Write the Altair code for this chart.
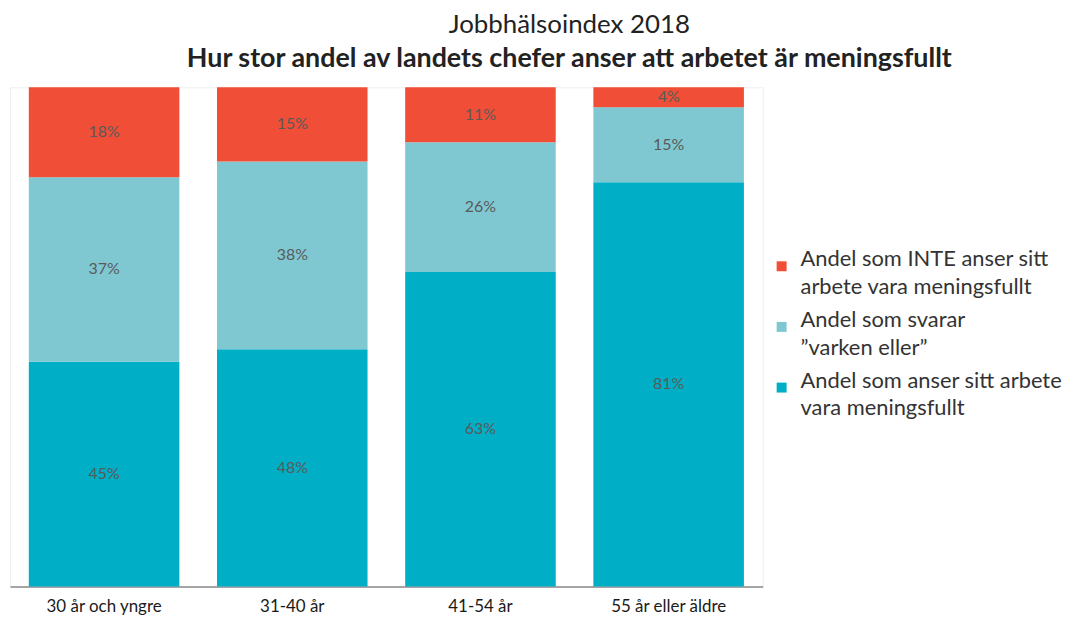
import altair as alt
import pandas as pd

ages = ["30 år och yngre", "31-40 år", "41-54 år", "55 år eller äldre"]
cat_not = "Andel som INTE anser sitt|arbete vara meningsfullt"
cat_neither = "Andel som svarar|”varken eller”"
cat_yes = "Andel som anser sitt arbete|vara meningsfullt"
categories = [cat_not, cat_neither, cat_yes]
colors = ["#F04E36", "#7FC8D2", "#00AEC6"]

v_yes = [45, 48, 63, 81]
v_neither = [37, 38, 26, 15]
v_not = [18, 15, 11, 4]

rows = []
for i, a in enumerate(ages):
    for cat, vals, o in [(cat_yes, v_yes, 0), (cat_neither, v_neither, 1), (cat_not, v_not, 2)]:
        rows.append({"age": a, "cat": cat, "value": vals[i], "ord": o, "label": f"{vals[i]}%"})
df = pd.DataFrame(rows)

base = alt.Chart(df).transform_stack(
    stack="value", groupby=["age"], as_=["y0", "y1"], offset="normalize",
    sort=[alt.SortField("ord", order="ascending")]
).transform_calculate(mid="(datum.y0 + datum.y1) / 2")

x = alt.X("age:N", sort=ages, title=None,
          scale=alt.Scale(paddingInner=0.2, paddingOuter=0.1),
          axis=alt.Axis(labelAngle=0, ticks=False, labelPadding=12, labelFontSize=17,
                        labelFont="Lato", labelColor="#1a1a1a", domainColor="#8a8a8a",
                        domainWidth=1.5, labelLineHeight=20))

bars = base.mark_bar().encode(
    x=x,
    y=alt.Y("y0:Q", scale=alt.Scale(domain=[0, 1]), axis=None),
    y2="y1:Q",
    color=alt.Color("cat:N", scale=alt.Scale(domain=categories, range=colors),
                    legend=alt.Legend(title=None, orient="none", legendX=765, legendY=169,
                                      symbolType="square", symbolSize=100, symbolStrokeWidth=0,
                                      labelFontSize=22, labelFont="Lato", labelColor="#333333",
                                      labelExpr="split(datum.label, '|')", labelLimit=400,
                                      labelOffset=8, rowPadding=11, padding=0,
                                      labelBaseline="alphabetic")),
)

texts = base.mark_text(fontSize=16, font="Lato", color="#5a5a5a").encode(
    x=alt.X("age:N", sort=ages),
    y=alt.Y("mid:Q"),
    text="label:N",
)

chart = (bars + texts).properties(
    width=757, height=502,
    title=alt.TitleParams(
        text="Jobbhälsoindex 2018",
        subtitle="Hur stor andel av landets chefer anser att arbetet är meningsfullt",
        anchor="middle", dx=184, font="Lato", fontSize=26, fontWeight="normal", color="#222222",
        subtitleFont="Lato", subtitleFontSize=27, subtitleFontWeight="bold", subtitleColor="#222222",
        subtitlePadding=9, offset=15),
    padding={"left": 2, "top": 78, "right": 308, "bottom": 34},
    autosize=alt.AutoSizeParams(type="none"),
).configure(
    style={"guide-label": {"lineHeight": 28}}
).configure_view(stroke="#eeeeee", strokeWidth=1)

chart.save("out.html", embed_options={"renderer": "svg", "actions": False})
